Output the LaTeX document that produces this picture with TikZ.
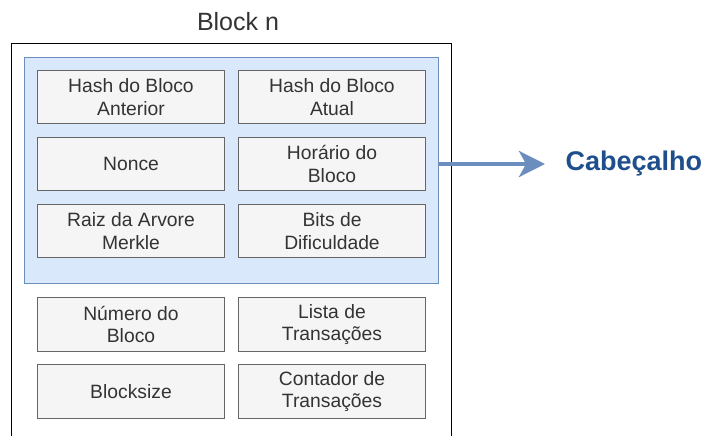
\documentclass[tikz,border=0pt]{standalone}
\usepackage{fontspec}
\setmainfont{Liberation Sans}
\usetikzlibrary{arrows.meta}
\definecolor{boxfill}{HTML}{F5F5F5}
\definecolor{boxline}{HTML}{666666}
\definecolor{txt}{HTML}{333333}
\definecolor{hdrfill}{HTML}{DAE8FC}
\definecolor{hdrline}{HTML}{6C8EBF}
\definecolor{hdrtext}{HTML}{1F4E8C}
\tikzset{
  field/.style={draw=boxline, fill=boxfill, line width=1pt, text=txt,
    minimum width=187pt, minimum height=53pt, inner sep=0pt,
    align=center, font=\fontsize{19.3}{22.5}\selectfont, anchor=north west},
  header/.style={draw=hdrline, fill=hdrfill, line width=1pt, inner sep=0pt, anchor=north west},
  outer/.style={draw=black, line width=1.2pt, fill=white, inner sep=0pt, anchor=north west},
  link/.style={draw=hdrline, line width=4pt,
    -{Stealth[length=26pt, width=26pt, inset=7pt]}}
}
\begin{document}
\begin{tikzpicture}[x=1pt, y=-1pt]
\useasboundingbox (0,0) rectangle (704,436);
\clip (0,0) rectangle (704,436);
% block frame, its lower edge runs past the page
\node[outer, minimum width=440pt, minimum height=420pt] (block) at (11,43) {};
\node[text=txt, font=\fontsize{25}{29}\selectfont] (title) at (238,22) {Block n};
% header group
\node[header, minimum width=414pt, minimum height=226pt] (hdr) at (24,57) {};
\node[field] (prev) at (37,70) {Hash do Bloco\\Anterior};
\node[field] (cur) at (238,70) {Hash do Bloco\\Atual};
\node[field] (nonce) at (37,137) {Nonce};
\node[field] (time) at (238,137) {Horário do\\Bloco};
\node[field] (merkle) at (37,204) {Raiz da Arvore\\Merkle};
\node[field] (bits) at (238,204) {Bits de\\Dificuldade};
% body fields
\node[field, minimum height=54pt] (num) at (37,297) {Número do\\Bloco};
\node[field, minimum height=54pt] (list) at (238,297) {Lista de\\Transações};
\node[field, minimum height=54pt] (size) at (37,364) {Blocksize};
\node[field, minimum height=54pt] (count) at (238,364) {Contador de\\Transações};
% label for the header
\node[text=hdrtext, font=\fontsize{27}{32}\selectfont\bfseries, anchor=west] (cab) at (562,164) {Cabeçalho};
\coordinate (tip) at (545,164);
\draw[link] (hdr.east |- tip) -- (tip);
\end{tikzpicture}
\end{document}
